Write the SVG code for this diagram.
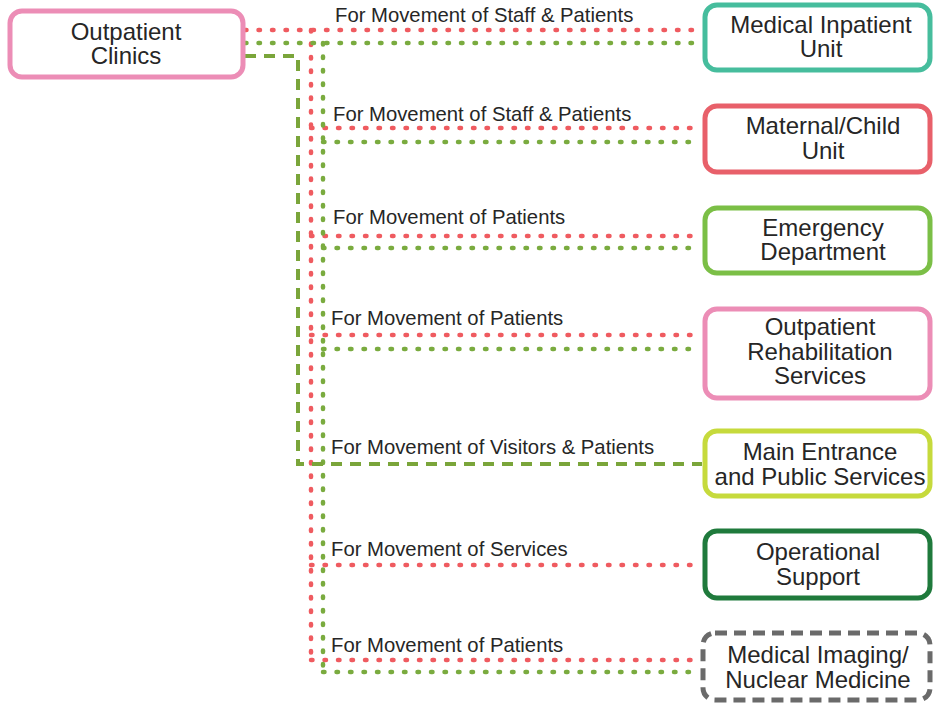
<svg xmlns="http://www.w3.org/2000/svg" width="933" height="704" viewBox="0 0 933 704">
  <style>
    .box { fill: #ffffff; stroke-width: 5; }
    .node-text { font-family: "Liberation Sans", Arial, sans-serif; font-size: 24px; fill: #262626; text-anchor: middle; }
    .label { font-family: "Liberation Sans", Arial, sans-serif; font-size: 20.3px; fill: #262626; }
    .red-dot { fill: none; stroke: #ef5b60; stroke-width: 4.5; stroke-linecap: round; stroke-dasharray: 1.5 12; }
    .green-dot { fill: none; stroke: #7aab3f; stroke-width: 4.5; stroke-linecap: round; stroke-dasharray: 1.5 12; }
    .green-dash { fill: none; stroke: #7aa53a; stroke-width: 4; stroke-dasharray: 11 8; }
  </style>

  <rect width="933" height="704" fill="#ffffff"/>

  <!-- connectors -->
  <g id="connectors">
    <!-- red dotted trunk and branches -->
    <path class="red-dot" d="M245 30 H700 M311 30 V660 M311 128 H700 M311 236 H700 M311 335 H700 M311 565 H700 M311 660 H700"/>
    <!-- green dotted trunk and branches -->
    <path class="green-dot" d="M245 43 H700 M323 43 V672 M323 142 H700 M323 248 H700 M323 349 H700 M323 672 H700"/>
    <!-- visitors & patients (green dashed) -->
    <path class="green-dash" d="M245 56 H298 V464 H702"/>
  </g>

  <!-- connector labels -->
  <g id="labels">
    <text class="label" x="335" y="22">For Movement of Staff &amp; Patients</text>
    <text class="label" x="333" y="121">For Movement of Staff &amp; Patients</text>
    <text class="label" x="333" y="224">For Movement of Patients</text>
    <text class="label" x="331" y="325">For Movement of Patients</text>
    <text class="label" x="331" y="454">For Movement of Visitors &amp; Patients</text>
    <text class="label" x="331" y="556">For Movement of Services</text>
    <text class="label" x="331" y="652">For Movement of Patients</text>
  </g>

  <g id="outpatient-clinics">
    <rect class="box" x="10" y="11" width="233" height="66" rx="12" stroke="#ec8db6"/>
    <text class="node-text" x="126" y="40">Outpatient</text>
    <text class="node-text" x="126" y="64">Clinics</text>
  </g>

  <g id="medical-inpatient-unit">
    <rect class="box" x="705" y="5" width="225" height="65" rx="12" stroke="#46bd9d"/>
    <text class="node-text" x="821" y="33">Medical Inpatient</text>
    <text class="node-text" x="821" y="57">Unit</text>
  </g>

  <g id="maternal-child-unit">
    <rect class="box" x="705" y="106" width="225" height="66" rx="12" stroke="#e8606a"/>
    <text class="node-text" x="823" y="134">Maternal/Child</text>
    <text class="node-text" x="823" y="159">Unit</text>
  </g>

  <g id="emergency-department">
    <rect class="box" x="705" y="208" width="225" height="65" rx="12" stroke="#7bbf46"/>
    <text class="node-text" x="823" y="236">Emergency</text>
    <text class="node-text" x="823" y="260">Department</text>
  </g>

  <g id="outpatient-rehabilitation-services">
    <rect class="box" x="705" y="309" width="225" height="89" rx="12" stroke="#ec8db6"/>
    <text class="node-text" x="820" y="335">Outpatient</text>
    <text class="node-text" x="820" y="360">Rehabilitation</text>
    <text class="node-text" x="820" y="384">Services</text>
  </g>

  <g id="main-entrance-public-services">
    <rect class="box" x="705" y="431" width="225" height="65" rx="12" stroke="#c6da3c"/>
    <text class="node-text" x="820" y="460">Main Entrance</text>
    <text class="node-text" x="820" y="485">and Public Services</text>
  </g>

  <g id="operational-support">
    <rect class="box" x="705" y="531" width="225" height="67" rx="12" stroke="#1f7a3c"/>
    <text class="node-text" x="818" y="560">Operational</text>
    <text class="node-text" x="818" y="585">Support</text>
  </g>

  <g id="medical-imaging-nuclear-medicine">
    <rect class="box" x="703" y="633" width="227" height="67" rx="12" stroke="#6a6a6a" stroke-width="6" stroke-dasharray="12 7"/>
    <text class="node-text" x="818" y="663">Medical Imaging/</text>
    <text class="node-text" x="818" y="688">Nuclear Medicine</text>
  </g>
</svg>
